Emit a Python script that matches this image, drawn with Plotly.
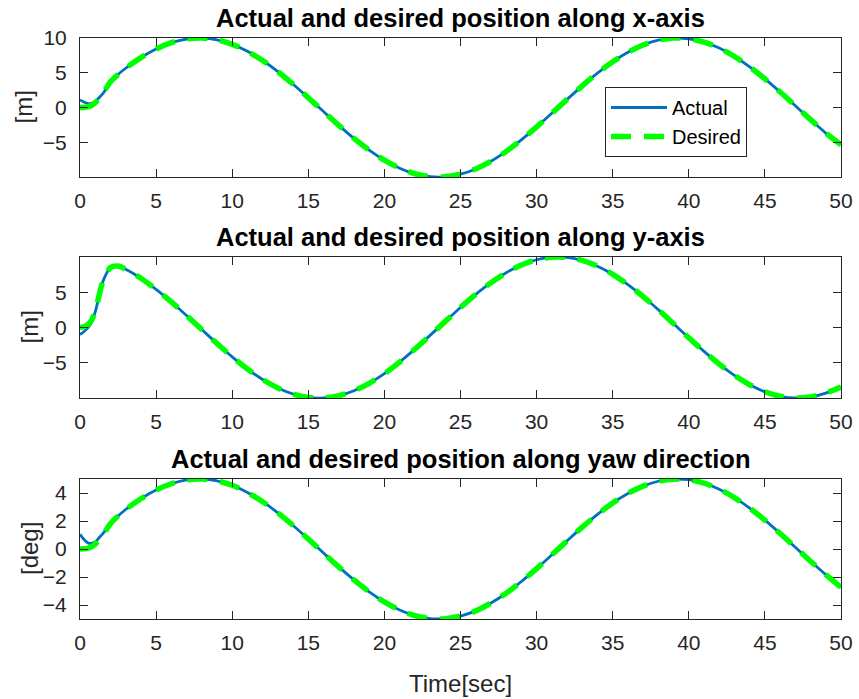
import plotly.graph_objects as go

# Time samples [sec]
time = [0, 0.25, 0.5, 0.75, 1.0, 1.25, 1.5, 2.0, 2.5, 3.0] + list(range(4, 51))

# Position along x [m]
x_actual = [1.1, 0.8, 0.6, 0.6, 0.85, 1.4, 2.0, 3.6, 4.75, 5.65,
            7.17, 8.41, 9.32, 9.85, 10.0, 9.74, 9.09, 8.08, 6.76, 5.16,
            3.35, 1.41, -0.58, -2.56, -4.43, -6.12, -7.57, -8.72, -9.52, -9.94,
            -9.96, -9.59, -8.83, -7.73, -6.31, -4.65, -2.79, -0.83, 1.17, 3.12,
            4.94, 6.57, 7.94, 8.99, 9.68, 9.99, 9.89, 9.41, 8.55, 7.34,
            5.85, 4.12, 2.23, 0.25, -1.74, -3.67, -5.35]
x_desired = [0.0, 0.02, 0.1, 0.3, 0.7, 1.3, 2.0, 3.7, 4.75, 5.65,
             7.17, 8.41, 9.32, 9.85, 10.0, 9.74, 9.09, 8.08, 6.76, 5.16,
             3.35, 1.41, -0.58, -2.56, -4.43, -6.12, -7.57, -8.72, -9.52, -9.94,
             -9.96, -9.59, -8.83, -7.73, -6.31, -4.65, -2.79, -0.83, 1.17, 3.12,
             4.94, 6.57, 7.94, 8.99, 9.68, 9.99, 9.89, 9.41, 8.55, 7.34,
             5.85, 4.12, 2.23, 0.25, -1.74, -3.67, -5.35]

# Position along y [m]
y_actual = [-1.0, -0.6, -0.1, 0.7, 2.2, 4.4, 6.5, 8.5, 8.7, 8.25,
            6.97, 5.40, 3.62, 1.70, -0.29, -2.27, -4.16, -5.89, -7.37, -8.57,
            -9.42, -9.90, -9.98, -9.67, -8.97, -7.91, -6.54, -4.90, -3.07, -1.12,
            0.87, 2.84, 4.69, 6.35, 7.76, 8.86, 9.60, 9.97, 9.93, 9.50,
            8.69, 7.54, 6.08, 4.39, 2.51, 0.54, -1.46, -3.39, -5.19, -6.79,
            -8.11, -9.11, -9.75, -9.99, -9.85, -9.30, -8.45]
y_desired = [0.0, 0.1, 0.4, 1.0, 2.3, 4.5, 6.5, 8.5, 8.7, 8.25,
             6.97, 5.40, 3.62, 1.70, -0.29, -2.27, -4.16, -5.89, -7.37, -8.57,
             -9.42, -9.90, -9.98, -9.67, -8.97, -7.91, -6.54, -4.90, -3.07, -1.12,
             0.87, 2.84, 4.69, 6.35, 7.76, 8.86, 9.60, 9.97, 9.93, 9.50,
             8.69, 7.54, 6.08, 4.39, 2.51, 0.54, -1.46, -3.39, -5.19, -6.79,
             -8.11, -9.11, -9.75, -9.99, -9.85, -9.30, -8.45]

# Yaw angle [deg]
yaw_actual = [1.05, 0.7, 0.45, 0.4, 0.5, 0.8, 1.1, 1.8, 2.35, 2.82,
              3.59, 4.21, 4.66, 4.93, 5.00, 4.87, 4.55, 4.04, 3.38, 2.58,
              1.68, 0.71, -0.29, -1.28, -2.21, -3.06, -3.78, -4.36, -4.76, -4.97,
              -4.98, -4.79, -4.42, -3.86, -3.16, -2.32, -1.40, -0.42, 0.58, 1.56,
              2.47, 3.29, 3.97, 4.49, 4.84, 4.99, 4.95, 4.70, 4.27, 3.67,
              2.92, 2.06, 1.11, 0.12, -0.87, -1.83, -2.74]
yaw_desired = [0.0, 0.01, 0.05, 0.15, 0.35, 0.65, 1.0, 1.8, 2.35, 2.82,
               3.59, 4.21, 4.66, 4.93, 5.00, 4.87, 4.55, 4.04, 3.38, 2.58,
               1.68, 0.71, -0.29, -1.28, -2.21, -3.06, -3.78, -4.36, -4.76, -4.97,
               -4.98, -4.79, -4.42, -3.86, -3.16, -2.32, -1.40, -0.42, 0.58, 1.56,
               2.47, 3.29, 3.97, 4.49, 4.84, 4.99, 4.95, 4.70, 4.27, 3.67,
               2.92, 2.06, 1.11, 0.12, -0.87, -1.83, -2.74]

x_ticks = [0, 5, 10, 15, 20, 25, 30, 35, 40, 45, 50]
panel_titles = ["Actual and desired position along x-axis",
                "Actual and desired position along y-axis",
                "Actual and desired position along yaw direction"]
y_labels = ["[m]", "[m]", "[deg]"]
y_tick_sets = [[-5, 0, 5, 10], [-5, 0, 5], [-4, -2, 0, 2, 4]]
y_ranges = [[-9.99, 10.0], [-9.99, 9.99], [-5.0, 5.0]]
x_label = "Time[sec]"

W, H = 859, 699
BLUE = "#0072BD"
GREEN = "#00FF00"
INK = "#262626"
FONT = "Liberation Sans, Arial, sans-serif"

# panel boxes in pixels: (top, bottom)
left_px, right_px = 80, 841
panels_px = [(38, 177), (257, 398), (479, 619)]


def py(p):
    return 1 - p / H


fig = go.Figure()
series = [(x_actual, x_desired), (y_actual, y_desired), (yaw_actual, yaw_desired)]
for i, (act, des) in enumerate(series):
    sfx = "" if i == 0 else str(i + 1)
    fig.add_trace(go.Scatter(
        x=time, y=act, mode="lines", name="Actual",
        line=dict(color=BLUE, width=2.8, shape="spline", smoothing=0.8),
        xaxis="x" + sfx, yaxis="y" + sfx, showlegend=(i == 0), legendgroup="a"))
    fig.add_trace(go.Scatter(
        x=time, y=des, mode="lines", name="Desired",
        line=dict(color=GREEN, width=5.5, dash="20px,13px", shape="spline", smoothing=0.8),
        xaxis="x" + sfx, yaxis="y" + sfx, showlegend=(i == 0), legendgroup="d"))

axis_common = dict(
    showline=True, linecolor=INK, linewidth=1, mirror="ticks",
    ticks="inside", ticklen=8, tickcolor=INK, tickwidth=1,
    showgrid=False, zeroline=False, automargin=False,
    tickfont=dict(family=FONT, size=21, color=INK),
)

layout = dict(
    template="none",
    width=W, height=H, autosize=False,
    margin=dict(l=0, r=0, t=0, b=0, pad=0, autoexpand=False),
    paper_bgcolor="white", plot_bgcolor="white",
    font=dict(family=FONT, color=INK),
    legend=dict(x=605 / W, y=py(87), xanchor="left", yanchor="top",
                bgcolor="white", bordercolor=INK, borderwidth=1,
                font=dict(family=FONT, size=20, color="black"),
                itemwidth=56, tracegroupgap=0),
)

annotations = []
for i, (top, bot) in enumerate(panels_px):
    sfx = "" if i == 0 else str(i + 1)
    layout["xaxis" + sfx] = dict(
        axis_common, domain=[left_px / W, right_px / W], range=[0, 50],
        tickvals=x_ticks, anchor="y" + sfx, ticklabelstandoff=5)
    layout["yaxis" + sfx] = dict(
        axis_common, domain=[py(bot), py(top)], range=y_ranges[i],
        tickvals=y_tick_sets[i], anchor="x" + sfx, ticklabelstandoff=8)
    annotations.append(dict(
        text="<b>" + panel_titles[i] + "</b>", x=(left_px + right_px) / 2 / W,
        y=py(top - 20), xref="paper", yref="paper", showarrow=False,
        xanchor="center", yanchor="middle",
        font=dict(family=FONT, size=25.5, color="black")))
    annotations.append(dict(
        text=y_labels[i], x=(23 if i == 0 else 29) / W, y=py((top + bot) / 2),
        xref="paper", yref="paper", showarrow=False, textangle=-90,
        xanchor="center", yanchor="middle",
        font=dict(family=FONT, size=24, color=INK)))

annotations.append(dict(
    text=x_label, x=(left_px + right_px) / 2 / W, y=py(683),
    xref="paper", yref="paper", showarrow=False,
    xanchor="center", yanchor="middle",
    font=dict(family=FONT, size=24, color=INK)))

layout["annotations"] = annotations
fig.update_layout(**layout)
fig.write_html("out.html")
